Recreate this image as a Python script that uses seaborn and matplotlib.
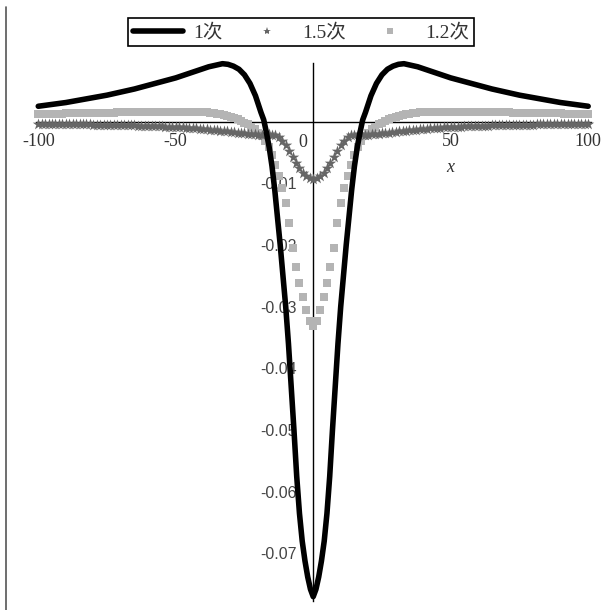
import numpy as np
import pandas as pd
import seaborn as sns
import matplotlib.pyplot as plt
from matplotlib.lines import Line2D
from matplotlib.ticker import MultipleLocator

# series names
labels = ['1次', '1.5次', '1.2次']

# "1次" solid line
x_black = [-100, -95, -90, -85, -80, -75, -70, -65, -60, -55, -50, -46, -42, -38, -35, -33, -31,
           -29, -27, -25, -23, -21, -19, -18, -17, -16, -15, -14, -13, -12, -11, -10, -9, -8, -7,
           -6, -5, -4, -3, -2, -1, 0,
           1, 2, 3, 4, 5, 6, 7, 8, 9, 10, 11, 12, 13, 14, 15, 16, 17, 18, 19, 21, 23, 25, 27, 29,
           31, 33, 35, 38, 42, 46, 50, 55, 60, 65, 70, 75, 80, 85, 90, 95, 100]
y_black = [0.0025, 0.0028, 0.0031, 0.0035, 0.0039, 0.0043, 0.0048, 0.0053, 0.0059, 0.0065, 0.0071, 0.0077, 0.0083, 0.0089, 0.0092, 0.0094, 0.0093,
           0.0090, 0.0085, 0.0076, 0.0062, 0.0042, 0.0015, 0.0003, -0.0018, -0.0042, -0.0072, -0.0110, -0.0155, -0.0200, -0.0250, -0.0300, -0.0360, -0.0430, -0.0500,
           -0.0575, -0.0635, -0.0680, -0.0712, -0.0738, -0.0758, -0.0770,
           -0.0758, -0.0738, -0.0712, -0.0680, -0.0635, -0.0575, -0.0500, -0.0430, -0.0360, -0.0300, -0.0250, -0.0200, -0.0155, -0.0110, -0.0072, -0.0042, -0.0018, 0.0003, 0.0015, 0.0042, 0.0062, 0.0076, 0.0085, 0.0090,
           0.0093, 0.0094, 0.0092, 0.0089, 0.0083, 0.0077, 0.0071, 0.0065, 0.0059, 0.0053, 0.0048, 0.0043, 0.0039, 0.0035, 0.0031, 0.0028, 0.0025]

# sample positions of the two point series
x_dots = np.linspace(-100, 100, 161)

# "1.5次" star points
y_15 = [-0.00030, -0.00031, -0.00032, -0.00033, -0.00034, -0.00035, -0.00036, -0.00037, -0.00038, -0.00039,
        -0.00040, -0.00041, -0.00042, -0.00043, -0.00044, -0.00045, -0.00046, -0.00047, -0.00048, -0.00049,
        -0.00050, -0.00051, -0.00053, -0.00054, -0.00055, -0.00057, -0.00058, -0.00060, -0.00061, -0.00063,
        -0.00065, -0.00067, -0.00069, -0.00071, -0.00073, -0.00075, -0.00077, -0.00080, -0.00082, -0.00085,
        -0.00088, -0.00091, -0.00094, -0.00097, -0.00101, -0.00105, -0.00109, -0.00113, -0.00118, -0.00123,
        -0.00128, -0.00134, -0.00140, -0.00146, -0.00152, -0.00159, -0.00165, -0.00172, -0.00178, -0.00185,
        -0.00191, -0.00197, -0.00202, -0.00206, -0.00208, -0.00208, -0.00206, -0.00205, -0.00208, -0.00222,
        -0.00255, -0.00310, -0.00385, -0.00475, -0.00570, -0.00665, -0.00755, -0.00830, -0.00885, -0.00920,
        -0.00935,
        -0.00920, -0.00885, -0.00830, -0.00755, -0.00665, -0.00570, -0.00475, -0.00385, -0.00310, -0.00255,
        -0.00222, -0.00208, -0.00205, -0.00206, -0.00208, -0.00208, -0.00206, -0.00202, -0.00197, -0.00191,
        -0.00185, -0.00178, -0.00172, -0.00165, -0.00159, -0.00152, -0.00146, -0.00140, -0.00134, -0.00128,
        -0.00123, -0.00118, -0.00113, -0.00109, -0.00105, -0.00101, -0.00097, -0.00094, -0.00091, -0.00088,
        -0.00085, -0.00082, -0.00080, -0.00077, -0.00075, -0.00073, -0.00071, -0.00069, -0.00067, -0.00065,
        -0.00063, -0.00061, -0.00060, -0.00058, -0.00057, -0.00055, -0.00054, -0.00053, -0.00051, -0.00050,
        -0.00049, -0.00048, -0.00047, -0.00046, -0.00045, -0.00044, -0.00043, -0.00042, -0.00041, -0.00040,
        -0.00039, -0.00038, -0.00037, -0.00036, -0.00035, -0.00034, -0.00033, -0.00032, -0.00031, -0.00030]

# "1.2次" square points
y_12 = [0.00120, 0.00122, 0.00124, 0.00125, 0.00127, 0.00128, 0.00130, 0.00131, 0.00133, 0.00134,
        0.00135, 0.00137, 0.00138, 0.00139, 0.00140, 0.00141, 0.00142, 0.00143, 0.00144, 0.00145,
        0.00146, 0.00147, 0.00148, 0.00149, 0.00150, 0.00151, 0.00152, 0.00153, 0.00154, 0.00155,
        0.00156, 0.00157, 0.00158, 0.00158, 0.00159, 0.00160, 0.00160, 0.00161, 0.00161, 0.00162,
        0.00162, 0.00162, 0.00162, 0.00162, 0.00161, 0.00160, 0.00158, 0.00156, 0.00153, 0.00149,
        0.00144, 0.00137, 0.00129, 0.00119, 0.00107, 0.00093, 0.00077, 0.00058, 0.00037, 0.00013,
        -0.00014, -0.00045, -0.00080, -0.00125, -0.00180, -0.00240, -0.00310, -0.00410, -0.00540, -0.00700,
        -0.00880, -0.01080, -0.01320, -0.01650, -0.02050, -0.02360, -0.02620, -0.02850, -0.03060, -0.03230,
        -0.03310,
        -0.03230, -0.03060, -0.02850, -0.02620, -0.02360, -0.02050, -0.01650, -0.01320, -0.01080, -0.00880,
        -0.00700, -0.00540, -0.00410, -0.00310, -0.00240, -0.00180, -0.00125, -0.00080, -0.00045, -0.00014,
        0.00013, 0.00037, 0.00058, 0.00077, 0.00093, 0.00107, 0.00119, 0.00129, 0.00137, 0.00144,
        0.00149, 0.00153, 0.00156, 0.00158, 0.00160, 0.00161, 0.00162, 0.00162, 0.00162, 0.00162,
        0.00162, 0.00161, 0.00161, 0.00160, 0.00160, 0.00159, 0.00158, 0.00158, 0.00157, 0.00156,
        0.00155, 0.00154, 0.00153, 0.00152, 0.00151, 0.00150, 0.00149, 0.00148, 0.00147, 0.00146,
        0.00145, 0.00144, 0.00143, 0.00142, 0.00141, 0.00140, 0.00139, 0.00138, 0.00137, 0.00135,
        0.00134, 0.00133, 0.00131, 0.00130, 0.00128, 0.00127, 0.00125, 0.00124, 0.00122, 0.00120]

x_ticks = [-100, -50, 50, 100]
x_ticklabels = ['-100', '-50', '50', '100']
y_ticks = [-0.07, -0.06, -0.05, -0.04, -0.03, -0.02, -0.01]
y_ticklabels = ['-0.07', '-0.06', '-0.05', '-0.04', '-0.03', '-0.02', '-0.01']

sns.set_style('white')
plt.rcParams['font.family'] = ['Liberation Serif', 'Noto Sans CJK SC']

fig = plt.figure(figsize=(6.07, 6.10), dpi=100)
ax = fig.add_axes([0.0585, 0.0148, 0.915, 0.8818])

df_black = pd.DataFrame({'x': x_black, 'y': y_black})
df_15 = pd.DataFrame({'x': x_dots, 'y': y_15})
df_12 = pd.DataFrame({'x': x_dots, 'y': y_12})

c_black, c_15, c_12 = 'black', '#666666', '#b4b4b4'

sns.scatterplot(data=df_12, x='x', y='y', marker='s', s=36, color=c_12, linewidth=0,
                ax=ax, zorder=3, clip_on=False, legend=False)
sns.scatterplot(data=df_15, x='x', y='y', marker='*', s=75, color=c_15, linewidth=0,
                ax=ax, zorder=4, clip_on=False, legend=False)
sns.lineplot(data=df_black, x='x', y='y', color=c_black, lw=4, ax=ax, zorder=5,
             sort=False, estimator=None, clip_on=False, legend=False)

ax.set_xlim(-101, 101)
ax.set_ylim(-0.0777, 0.0095)

# axes crossing at the origin
for side in ['top', 'right']:
    ax.spines[side].set_visible(False)
ax.spines['left'].set_position(('data', 0))
ax.spines['bottom'].set_position(('data', 0))
for side in ['left', 'bottom']:
    ax.spines[side].set_color('black')
    ax.spines[side].set_linewidth(1.0)

ax.set_xticks(x_ticks, x_ticklabels)
ax.set_yticks(y_ticks, y_ticklabels)
ax.xaxis.set_minor_locator(MultipleLocator(10))
ax.yaxis.set_minor_locator(MultipleLocator(0.005))
ax.tick_params(axis='both', which='major', direction='out', length=5, width=1, color='black')
ax.tick_params(axis='both', which='minor', direction='out', length=3.5, width=1, color='black')
ax.tick_params(axis='x', which='major', pad=3, labelsize=13, labelcolor='#333333')
ax.tick_params(axis='y', which='major', pad=7, labelsize=11.5, labelcolor='#444444')
for t in ax.get_xticklabels():
    t.set_family('Liberation Serif')
for t in ax.get_yticklabels():
    t.set_family('Liberation Sans')
ax.set_xlabel('')
ax.set_ylabel('')

ax.annotate('0', xy=(0, 0), xytext=(-7.5, -15), textcoords='offset points',
            ha='center', va='center', fontsize=13, family='Liberation Serif', color='#333333')
ax.annotate('x', xy=(50, 0), xytext=(0, -33), textcoords='offset points',
            ha='center', va='center', fontsize=13, family='Liberation Serif',
            style='italic', color='#333333')

handles = [Line2D([], [], color=c_black, lw=4),
           Line2D([], [], color=c_15, marker='*', ls='', markersize=6, markeredgewidth=0),
           Line2D([], [], color=c_12, marker='s', ls='', markersize=5, markeredgewidth=0)]
leg = fig.legend(handles, labels, loc='center', bbox_to_anchor=(0.496, 0.947), ncol=3,
                 frameon=True, fancybox=False, edgecolor='black', framealpha=1,
                 fontsize=14, handlelength=2.6, handletextpad=0.5, columnspacing=1.0,
                 borderpad=0.25)
leg.get_frame().set_linewidth(1.2)
for t in leg.get_texts():
    t.set_color('#333333')

# page edge line at the left of the scan
fig.add_artist(Line2D([0.0105, 0.0105], [0.0, 0.988], transform=fig.transFigure,
                      color='#555555', lw=1.2))

fig.savefig('out.png', dpi=100)
